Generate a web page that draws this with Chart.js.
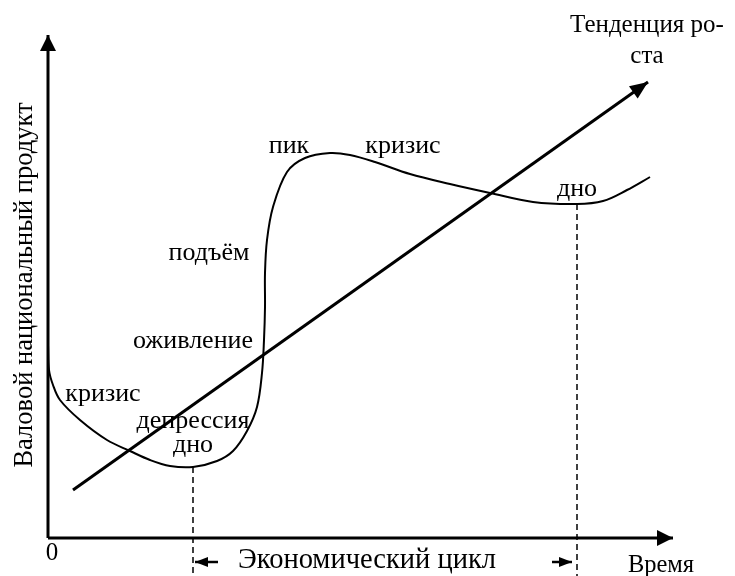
<!DOCTYPE html>
<html>
<head>
<meta charset="utf-8">
<script src="https://cdn.jsdelivr.net/npm/chart.js@4/dist/chart.umd.min.js"></script>
<style>
  html, body { margin: 0; padding: 0; background: #fff; }
</style>
</head>
<body>
<canvas id="chart" width="735" height="576"></canvas>
<script>
// business cycle curve (time, GNP), arbitrary units from the origin
const cycleX = [0, 1, 5, 12, 32, 59, 82, 102, 122, 145, 169, 185, 199, 209, 214, 216, 217, 217, 219, 225, 239, 257, 282, 302, 327, 362, 402, 442, 485, 529, 555, 579, 602];
const cycleY = [193, 168, 153, 138, 118, 98, 87, 78, 72, 71, 77, 87, 107, 131, 165, 198, 231, 265, 298, 331, 366, 380, 385, 383, 376, 364, 354, 345, 336, 334, 337, 348, 361];

// growth trend line
const trendX = [25, 600];
const trendY = [48, 456];

// the two troughs that bound one cycle
const troughX = [145, 529];
const troughY = [71, 334];

const phaseLabels = ['пик', 'кризис', 'дно', 'подъём', 'оживление', 'кризис', 'депрессия', 'дно'];
const phaseX = [241, 355, 529, 161, 145, 55, 145, 145];
const phaseY = [385, 385, 342, 278, 190, 137, 110, 86];

const axisTitleY = 'Валовой национальный продукт';
const axisTitleX = 'Время';
const trendTitle = ['Тенденция ро-', 'ста'];
const cycleTitle = 'Экономический цикл';

const xMax = 625, yMax = 503, below = -24;

function pts(xs, ys) {
  return xs.map((x, i) => ({ x: x, y: ys[i] }));
}

const arrowPlugin = {
  id: 'arrows',
  afterDatasetsDraw(chart) {
    const ctx = chart.ctx;
    chart.data.datasets.forEach((ds, i) => {
      if (!ds.head) return;
      const p = chart.getDatasetMeta(i).data;
      const a = p[p.length - 2], b = p[p.length - 1];
      const ang = Math.atan2(b.y - a.y, b.x - a.x);
      const len = ds.head[0], half = ds.head[1];
      const bx = b.x - len * Math.cos(ang), by = b.y - len * Math.sin(ang);
      ctx.save();
      ctx.fillStyle = '#000';
      ctx.beginPath();
      ctx.moveTo(b.x, b.y);
      ctx.lineTo(bx + half * Math.sin(ang), by - half * Math.cos(ang));
      ctx.lineTo(bx - half * Math.sin(ang), by + half * Math.cos(ang));
      ctx.closePath();
      ctx.fill();
      ctx.restore();
    });
  }
};

const serif = '"Liberation Serif", "Times New Roman", serif';

const textPlugin = {
  id: 'texts',
  afterDraw(chart) {
    const ctx = chart.ctx;
    const x = chart.scales.x, y = chart.scales.y;
    const px = v => x.getPixelForValue(v), py = v => y.getPixelForValue(v);
    const put = (t, size, vx, vy) => {
      ctx.font = size + 'px ' + serif;
      ctx.fillText(t, px(vx), py(vy));
    };
    ctx.save();
    ctx.fillStyle = '#000';
    ctx.textAlign = 'center';
    ctx.textBaseline = 'alphabetic';
    phaseLabels.forEach((t, i) => put(t, 26, phaseX[i], phaseY[i]));
    put(trendTitle[0], 25, 599, 506);
    put(trendTitle[1], 25, 599, 475);
    put('0', 25, 4, -22);
    put(cycleTitle, 28.5, 319, -30);
    put(axisTitleX, 24.5, 613, -34);
    ctx.translate(px(-16), py(253));
    ctx.rotate(-Math.PI / 2);
    ctx.font = '26.5px ' + serif;
    ctx.fillText(axisTitleY, 0, 0);
    ctx.restore();
  }
};

const black = '#000';

new Chart(document.getElementById('chart'), {
  type: 'scatter',
  data: {
    datasets: [
      { data: pts([0, 0], [0, yMax]), borderWidth: 3, head: [16, 8] },
      { data: pts([0, xMax], [0, 0]), borderWidth: 3, head: [16, 8] },
      { data: pts(cycleX, cycleY), borderWidth: 2, tension: 0.35 },
      { data: pts(trendX, trendY), borderWidth: 3, head: [18, 7.5] },
      { data: pts([troughX[0], troughX[0]], [troughY[0], -38]), borderWidth: 1.5, borderDash: [6, 4] },
      { data: pts([troughX[1], troughX[1]], [troughY[1], -38]), borderWidth: 1.5, borderDash: [6, 4] },
      { data: pts([troughX[0] + 25, troughX[0] + 2], [below, below]), borderWidth: 2.5, head: [13, 5] },
      { data: pts([troughX[1] - 25, troughX[1] - 5], [below, below]), borderWidth: 2.5, head: [13, 5] }
    ].map(ds => Object.assign({
      showLine: true,
      borderColor: black,
      pointRadius: 0,
      clip: false
    }, ds))
  },
  options: {
    responsive: false,
    animation: false,
    layout: { padding: { left: 48, right: 62, top: 35, bottom: 38 } },
    plugins: { legend: { display: false }, tooltip: { enabled: false } },
    scales: {
      x: { type: 'linear', min: 0, max: xMax, display: false },
      y: { type: 'linear', min: 0, max: yMax, display: false }
    }
  },
  plugins: [arrowPlugin, textPlugin]
});
</script>
</body>
</html>
